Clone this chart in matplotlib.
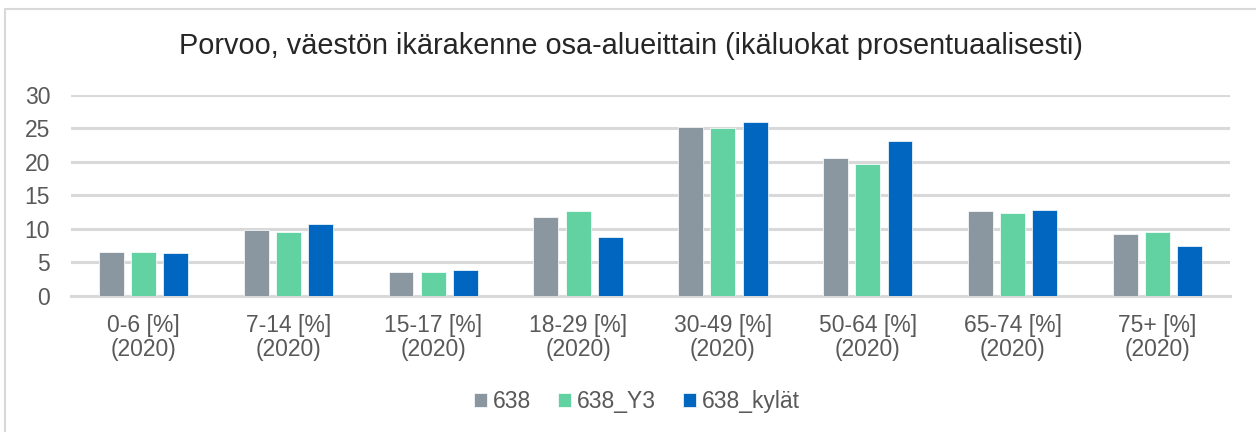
import numpy as np
import matplotlib.pyplot as plt
from matplotlib.patches import Rectangle

plt.rcParams['font.family'] = ['Liberation Sans', 'DejaVu Sans']

categories = ['0-6 [%]\n(2020)', '7-14 [%]\n(2020)', '15-17 [%]\n(2020)', '18-29 [%]\n(2020)',
              '30-49 [%]\n(2020)', '50-64 [%]\n(2020)', '65-74 [%]\n(2020)', '75+ [%]\n(2020)']
s638 = [6.6, 9.8, 3.6, 11.8, 25.2, 20.5, 12.6, 9.2]
s638_y3 = [6.6, 9.6, 3.6, 12.6, 25.0, 19.7, 12.4, 9.6]
s638_kylat = [6.45, 10.8, 3.9, 8.8, 26.0, 23.1, 12.8, 7.45]
series_names = ['638', '638_Y3', '638_kylät']
colors = ['#8A96A0', '#62D2A2', '#0066BF']

txt = '#595959'
fig = plt.figure(figsize=(12.56, 4.32), dpi=100)
ax = fig.add_axes([0.0565, 0.3148, 0.9228, 0.466])

x = np.arange(len(categories))
w = 0.172
step = 0.222
for i, (vals, name, c) in enumerate(zip([s638, s638_y3, s638_kylat], series_names, colors)):
    ax.bar(x + (i - 1) * step, vals, w, color=c, label=name, zorder=3,
           edgecolor='white', linewidth=0.5)

ax.set_xlim(-0.5, 7.5)
ax.set_ylim(0, 30)
ax.set_yticks(range(0, 31, 5))
ax.set_xticks(x)
ax.set_xticklabels(categories, fontsize=16.5, color=txt, linespacing=1.05)
ax.tick_params(axis='y', labelsize=16.5, colors=txt, length=0, pad=15)
ax.tick_params(axis='x', length=0, pad=13)
ax.yaxis.grid(True, color='#D9D9D9', linewidth=2.2, zorder=0)
for s in ['top', 'right', 'left']:
    ax.spines[s].set_visible(False)
ax.spines['bottom'].set_color('#D9D9D9')
ax.spines['bottom'].set_linewidth(2.2)

fig.text(0.502, 0.893, 'Porvoo, väestön ikärakenne osa-alueittain (ikäluokat prosentuaalisesti)',
         ha='center', va='center', fontsize=20.8, color='#262626')

fig.legend(loc='center', bbox_to_anchor=(0.507, 0.07), ncol=3, frameon=False,
           fontsize=16.5, labelcolor=txt, handlelength=0.55, handleheight=0.55,
           handletextpad=0.25, columnspacing=1.2)

fig.patches.append(Rectangle((0.004, -0.01), 1.1, 0.99, transform=fig.transFigure,
                             fill=False, edgecolor='#D9D9D9', linewidth=1.5))

fig.savefig('out.png', dpi=100)
